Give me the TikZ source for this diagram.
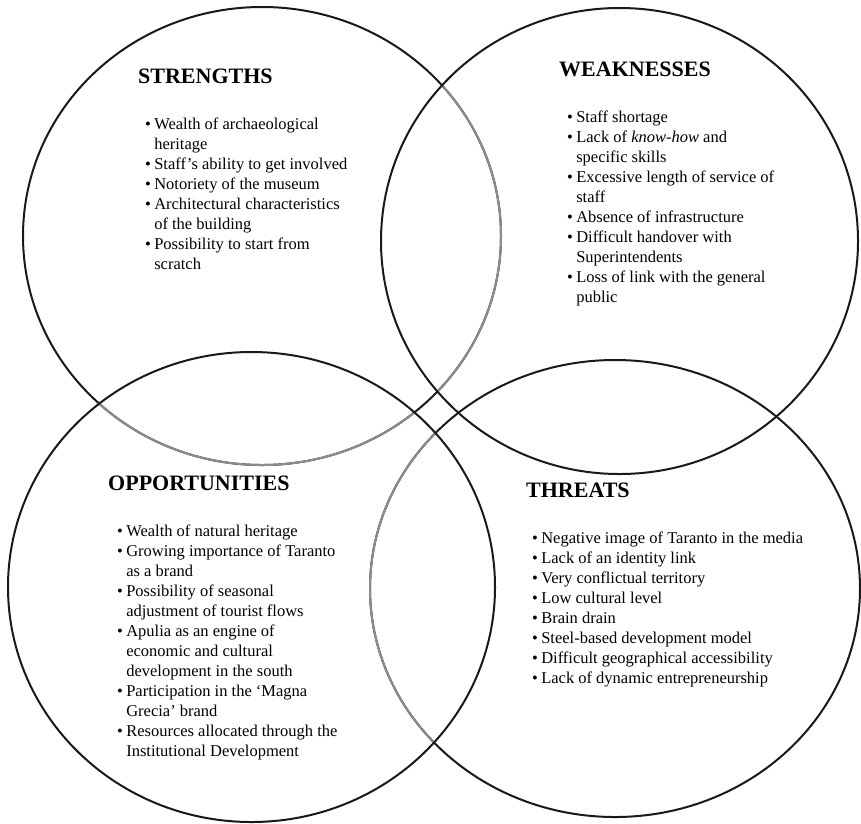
\documentclass[tikz,border=0pt]{standalone}
\usepackage{fontspec}
\setmainfont{Liberation Serif}

\tikzset{
  swot/.style={line width=2pt, black!90},
  overlap/.style={line width=2pt, black!45},
  heading/.style={anchor=base west, inner sep=0pt, font=\fontsize{22}{26}\selectfont\bfseries},
  items/.style={anchor=base west, inner sep=0pt, font=\fontsize{16.5}{20}\selectfont},
}
\newcommand{\bul}{\makebox[0.55em][l]{\textbullet}}

\begin{document}
\begin{tikzpicture}[x=1pt, y=-1pt]
\useasboundingbox (0,0) rectangle (861,823);

\coordinate (S) at (262,236);
\coordinate (W) at (619.5,241);
\coordinate (O) at (251.5,587);
\coordinate (T) at (615,588.5);

% circles, the parts inside another one in grey
\draw[swot] (S) ellipse [x radius=239, y radius=229];
\begin{scope}
  \clip (W) ellipse [x radius=238.5, y radius=233];
  \draw[overlap] (S) ellipse [x radius=239, y radius=229];
\end{scope}
\begin{scope}
  \clip (O) ellipse [x radius=243.5, y radius=235];
  \draw[overlap] (S) ellipse [x radius=239, y radius=229];
\end{scope}
\draw[swot] (T) ellipse [x radius=245, y radius=228.5];
\begin{scope}
  \clip (O) ellipse [x radius=243.5, y radius=235];
  \draw[overlap] (T) ellipse [x radius=245, y radius=228.5];
\end{scope}
\draw[swot] (W) ellipse [x radius=238.5, y radius=233];
\draw[swot] (O) ellipse [x radius=243.5, y radius=235];

% headings
\node[heading] (s-title) at (138,83) {STRENGTHS};
\node[heading] (w-title) at (559,76) {WEAKNESSES};
\node[heading] (o-title) at (108,490) {OPPORTUNITIES};
\node[heading] (t-title) at (526,497) {THREATS};

% lists
\node[items] (s-list) at (145,129) {\begin{tabular}[t]{@{}l@{}l@{}}
\bul & Wealth of archaeological\\
     & heritage\\
\bul & Staff's ability to get involved\\
\bul & Notoriety of the museum\\
\bul & Architectural characteristics\\
     & of the building\\
\bul & Possibility to start from\\
     & scratch
\end{tabular}};

\node[items] (w-list) at (567,122) {\begin{tabular}[t]{@{}l@{}l@{}}
\bul & Staff shortage\\
\bul & Lack of \textit{know-how} and\\
     & specific skills\\
\bul & Excessive length of service of\\
     & staff\\
\bul & Absence of infrastructure\\
\bul & Difficult handover with\\
     & Superintendents\\
\bul & Loss of link with the general\\
     & public
\end{tabular}};

\node[items] (o-list) at (117,536) {\begin{tabular}[t]{@{}l@{}l@{}}
\bul & Wealth of natural heritage\\
\bul & Growing importance of Taranto\\
     & as a brand\\
\bul & Possibility of seasonal\\
     & adjustment of tourist flows\\
\bul & Apulia as an engine of\\
     & economic and cultural\\
     & development in the south\\
\bul & Participation in the ‘Magna\\
     & Grecia’ brand\\
\bul & Resources allocated through the\\
     & Institutional Development
\end{tabular}};

\node[items] (t-list) at (532,543) {\begin{tabular}[t]{@{}l@{}l@{}}
\bul & Negative image of Taranto in the media\\
\bul & Lack of an identity link\\
\bul & Very conflictual territory\\
\bul & Low cultural level\\
\bul & Brain drain\\
\bul & Steel-based development model\\
\bul & Difficult geographical accessibility\\
\bul & Lack of dynamic entrepreneurship
\end{tabular}};
\end{tikzpicture}
\end{document}
